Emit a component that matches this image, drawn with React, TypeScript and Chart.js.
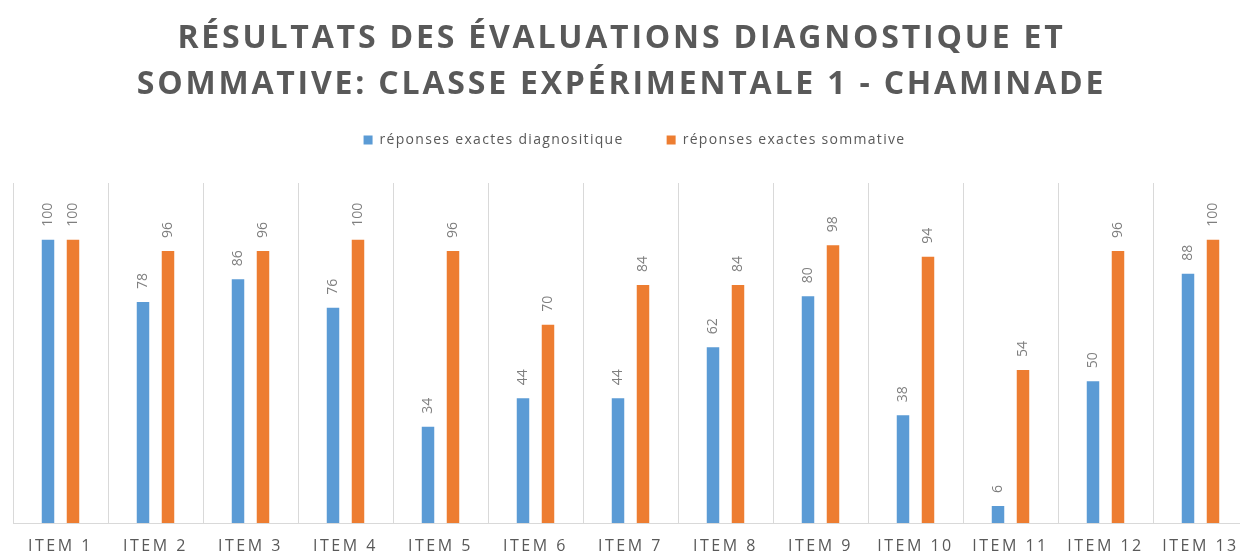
import React, { useEffect, useRef } from "react";
import { Chart, registerables } from "chart.js";

Chart.register(...registerables);

const TITLE_LINES = [
  "RÉSULTATS DES ÉVALUATIONS DIAGNOSTIQUE ET",
  "SOMMATIVE: CLASSE EXPÉRIMENTALE 1 - CHAMINADE",
];
const CATEGORIES = [
  "ITEM 1", "ITEM 2", "ITEM 3", "ITEM 4", "ITEM 5", "ITEM 6", "ITEM 7",
  "ITEM 8", "ITEM 9", "ITEM 10", "ITEM 11", "ITEM 12", "ITEM 13",
];
const SERIES_NAMES = ["réponses exactes diagnositique", "réponses exactes sommative"];
const DIAGNOSTIQUE = [100, 78, 86, 76, 34, 44, 44, 62, 80, 38, 6, 50, 88];
const SOMMATIVE = [100, 96, 96, 100, 96, 70, 84, 84, 98, 94, 54, 96, 100];
const Y_MIN = 0;
const Y_MAX = 120;

const BLUE = "#5B9BD5";
const ORANGE = "#ED7D31";
const TEXT = "#595959";
const LABEL = "#7F7F7F";
const GRID = "#D9D9D9";
const FONT = "'Open Sans', sans-serif";

const CANVAS_W = 1252;
const CANVAS_H = 554;
const LEGEND_HEIGHT = 93;
const TITLE_SPACING = "2.8px";
const LEGEND_SPACING = "1.3px";
const TICK_SPACING = "2.5px";
const TITLE_SHIFT = -9;
const LEGEND_SHIFT = 4;

const boxTweaks = {
  id: "boxTweaks",
  beforeInit(chart: any) {
    const lg = chart.legend;
    if (lg) {
      const origFit = lg.fit;
      lg.fit = function () {
        const ctx = this.ctx;
        ctx.save();
        ctx.letterSpacing = LEGEND_SPACING;
        origFit.call(this);
        ctx.restore();
        this.height = LEGEND_HEIGHT;
      };
      const origDraw = lg.draw;
      lg.draw = function (...args: any[]) {
        const ctx = this.ctx;
        ctx.save();
        ctx.letterSpacing = LEGEND_SPACING;
        ctx.translate(LEGEND_SHIFT, 0);
        origDraw.apply(this, args);
        ctx.restore();
      };
    }
    const tb = chart.titleBlock;
    if (tb) {
      const origDraw = tb.draw;
      tb.draw = function (...args: any[]) {
        const ctx = this.ctx;
        ctx.save();
        ctx.letterSpacing = TITLE_SPACING;
        ctx.translate(TITLE_SHIFT, 0);
        origDraw.apply(this, args);
        ctx.restore();
      };
    }
  },
};

const valueLabels = {
  id: "valueLabels",
  beforeDraw(chart: any) {
    chart.ctx.letterSpacing = "0px";
  },
  afterDatasetsDraw(chart: any) {
    const ctx = chart.ctx;
    ctx.save();
    ctx.letterSpacing = "0px";
    ctx.font = `14px ${FONT}`;
    ctx.fillStyle = LABEL;
    ctx.textAlign = "left";
    ctx.textBaseline = "middle";
    chart.data.datasets.forEach((ds: any, di: number) => {
      const meta = chart.getDatasetMeta(di);
      meta.data.forEach((el: any, i: number) => {
        ctx.save();
        ctx.translate(el.x, el.y - 13);
        ctx.rotate(-Math.PI / 2);
        ctx.fillText(String(ds.data[i]), 0, 0);
        ctx.restore();
      });
    });
    ctx.restore();
    ctx.letterSpacing = TICK_SPACING;
  },
  afterDraw(chart: any) {
    chart.ctx.letterSpacing = "0px";
  },
};

export default function App() {
  const ref = useRef<HTMLCanvasElement | null>(null);

  useEffect(() => {
    if (!ref.current) return;
    const chart = new Chart(ref.current, {
      type: "bar",
      data: {
        labels: CATEGORIES,
        datasets: [
          {
            label: SERIES_NAMES[0],
            data: DIAGNOSTIQUE,
            backgroundColor: BLUE,
            borderWidth: 0,
            categoryPercentage: 0.526,
            barPercentage: 0.5,
          },
          {
            label: SERIES_NAMES[1],
            data: SOMMATIVE,
            backgroundColor: ORANGE,
            borderWidth: 0,
            categoryPercentage: 0.526,
            barPercentage: 0.5,
          },
        ],
      },
      options: {
        responsive: false,
        animation: false,
        layout: { padding: { left: 13, right: 4, top: 0, bottom: -15 } },
        plugins: {
          title: {
            display: true,
            text: TITLE_LINES,
            color: TEXT,
            font: { family: FONT, size: 32, weight: "bold", lineHeight: 1.4375 },
            padding: { top: 16, bottom: -18 },
          },
          legend: {
            display: true,
            position: "top",
            labels: {
              color: TEXT,
              font: { family: FONT, size: 14 },
              boxWidth: 9,
              boxHeight: 9,
              padding: 43,
            },
          },
          tooltip: { enabled: false },
        },
        scales: {
          x: {
            grid: { display: true, color: GRID, drawTicks: false, offset: true },
            border: { display: true, color: GRID },
            ticks: {
              color: TEXT,
              font: { family: FONT, size: 16, lineHeight: 1 },
              padding: 15,
              autoSkip: false,
              maxRotation: 0,
              z: 1,
            },
          },
          y: {
            display: false,
            min: Y_MIN,
            max: Y_MAX,
          },
        },
      },
      plugins: [boxTweaks, valueLabels],
    });
    return () => chart.destroy();
  }, []);

  return (
    <div
      style={{
        position: "absolute",
        left: 0,
        top: 0,
        width: 1240,
        height: 554,
        overflow: "hidden",
        background: "#fff",
      }}
    >
      <div style={{ width: CANVAS_W, height: CANVAS_H }}>
        <canvas ref={ref} width={CANVAS_W} height={CANVAS_H} style={{ display: "block" }} />
      </div>
    </div>
  );
}
